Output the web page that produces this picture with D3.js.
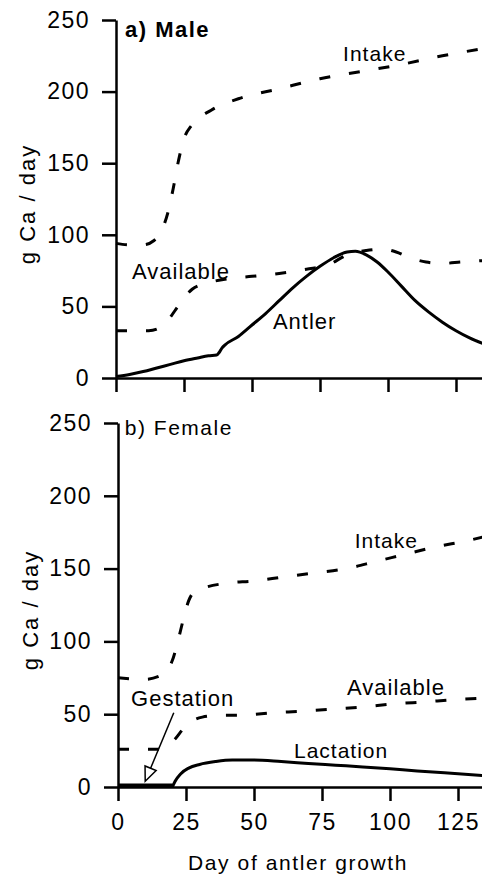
<!DOCTYPE html>
<html>
<head>
<meta charset="utf-8">
<script src="https://cdn.jsdelivr.net/npm/d3@7"></script>
<style>
  body { margin: 0; background: #fff; }
  svg { display: block; font-family: Arial, "Liberation Sans", Helvetica, sans-serif; }
  .axis path, .axis line { stroke: #000; stroke-width: 2.5; }
  .axis text { font-size: 23px; fill: #000; letter-spacing: 1.5px; }
  .lab { font-size: 22px; fill: #000; letter-spacing: 1px; }
</style>
</head>
<body>
<div id="chart"></div>
<script>
'use strict';

// day of antler growth vs g Ca / day
var xTicks = [0, 25, 50, 75, 100, 125];
var yTicks = [0, 50, 100, 150, 200, 250];

var maleIntake = [[0,94],[5,93],[10,93],[14,96],[17,104],[19,115],[21,132],[23,152],[25,167],[28,177],[35,187],[45,195],[60,202],[75,209],[90,214],[105,219],[120,225],[135,230]];
var maleAvailable = [[0,33],[12,33],[16,35],[19,40],[22,48],[25,56],[28,62],[33,66],[40,69],[50,71],[60,73],[70,76],[78,79],[85,86],[92,89],[98,90],[103,88],[108,84],[114,81],[120,80],[127,81],[135,82]];
var maleAntler = [[0,1],[5,2.5],[10,4.5],[15,7],[20,9.5],[25,12],[30,14],[34,15.5],[37,16],[38,18],[39,21],[40,23],[45,29],[50,37],[55,45],[60,54],[65,63],[70,71],[75,78],[80,84],[85,88],[88,88.5],[92,86],[96,81],[100,74],[105,64],[110,54],[115,46],[120,39],[125,33],[130,28],[135,24]];

var femaleIntake = [[0,75],[10,74],[15,76],[18,80],[20,87],[22,100],[24,115],[26,128],[28,134],[32,137],[40,140],[50,141.5],[60,144],[72,147],[84,150],[95,155],[106,160],[117,165],[128,169],[135,172]];
var femaleAvailable = [[0,26],[15,26],[18,28],[21,33],[24,40],[27,45],[31,48],[36,49],[47,49.5],[57,51],[67,52],[79,53.5],[90,55],[101,57],[113,58.5],[124,60],[135,61]];
var lactation = [[20,0],[21,4],[23,9],[26,13],[30,15.5],[36,17.5],[42,18.5],[50,18.5],[60,17.5],[70,16.2],[80,15],[90,13.8],[100,12.5],[110,11],[120,9.8],[135,7.8]];
var gestation = [[0,1],[20,1]];

var width = 482, height = 875;

var svg = d3.select('#chart').append('svg')
	.attr('width', width)
	.attr('height', height);

function panel(opts){
	var x = d3.scaleLinear().domain([0, 135]).range([opts.left, opts.left + 135*2.72]);
	var y = d3.scaleLinear().domain([0, 250]).range([opts.bottom, opts.top]);

	var g = svg.append('g');

	g.append('g')
		.attr('class', 'axis')
		.attr('transform', 'translate(' + opts.left + ',0)')
		.call(d3.axisLeft(y).tickValues(yTicks).tickSize(14).tickSizeOuter(0).tickPadding(12));

	var xAxis = g.append('g')
		.attr('class', 'axis')
		.attr('transform', 'translate(0,' + opts.bottom + ')')
		.call(d3.axisBottom(x).tickValues(xTicks).tickSize(14).tickSizeOuter(0).tickPadding(12)
			.tickFormat(opts.xLabels ? d3.format('d') : ''));
	xAxis.selectAll('text').attr('dy', '0.75em');

	g.append('text')
		.attr('class', 'lab')
		.attr('transform', 'translate(' + opts.yLabelX + ',' + opts.yLabelY + ') rotate(-90)')
		.attr('text-anchor', 'middle')
		.attr('dy', '0.35em')
		.style('letter-spacing', '2px')
		.text('g Ca / day');

	var line = d3.line()
		.x(function(d){ return x(d[0]); })
		.y(function(d){ return y(d[1]); })
		.curve(d3.curveMonotoneX);

	opts.series.forEach(function(s){
		g.append('path')
			.datum(s.data)
			.attr('d', line)
			.attr('fill', 'none')
			.attr('stroke', '#000')
			.attr('stroke-width', s.w || 3)
			.attr('stroke-dasharray', s.dashed ? '11,19' : null);
	});

	opts.labels.forEach(function(l){
		g.append('text')
			.attr('class', 'lab')
			.attr('x', x(l.at[0]))
			.attr('y', y(l.at[1]))
			.style('font-weight', l.bold ? 'bold' : null)
			.style('font-size', l.size ? l.size + 'px' : null)
			.style('letter-spacing', l.ls != null ? l.ls + 'px' : null)
			.text(l.text);
	});

	return {x: x, y: y, g: g};
}

var malePanel = panel({
	left: 116, top: 20, bottom: 378, xLabels: false,
	yLabelX: 27, yLabelY: 204,
	series: [
		{data: maleIntake, dashed: true},
		{data: maleAvailable, dashed: true},
		{data: maleAntler}
	],
	labels: [
		{text: 'a) Male', at: [3.3, 238], bold: true, size: 22, ls: 1.5},
		{text: 'Intake', at: [83.5, 221.4], size: 21},
		{text: 'Available', at: [5.9, 69]},
		{text: 'Antler', at: [57.7, 34]}
	]
});

var femalePanel = panel({
	left: 118, top: 423, bottom: 787, xLabels: true,
	yLabelX: 30, yLabelY: 610,
	series: [
		{data: femaleIntake, dashed: true},
		{data: femaleAvailable, dashed: true},
		{data: lactation},
		{data: gestation, w: 4}
	],
	labels: [
		{text: 'b) Female', at: [2.5, 242], size: 21, ls: 1.5},
		{text: 'Intake', at: [87, 164], size: 21},
		{text: 'Available', at: [84.2, 63]},
		{text: 'Lactation', at: [64.7, 20], size: 21},
		{text: 'Gestation', at: [4.8, 55.6]}
	]
});

// arrow from the Gestation label down to the line
var fx = femalePanel.x, fy = femalePanel.y;
var a0 = [fx(20.5), fy(51)], a1 = [fx(10), fy(4)];
var ang = Math.atan2(a1[1] - a0[1], a1[0] - a0[0]);
var hl = 14, hw = 6;
var base = [a1[0] - hl*Math.cos(ang), a1[1] - hl*Math.sin(ang)];
femalePanel.g.append('line')
	.attr('x1', a0[0]).attr('y1', a0[1])
	.attr('x2', base[0]).attr('y2', base[1])
	.attr('stroke', '#000').attr('stroke-width', 1.5);
femalePanel.g.append('path')
	.attr('d', d3.line()([
		a1,
		[base[0] + hw*Math.sin(ang), base[1] - hw*Math.cos(ang)],
		[base[0] - hw*Math.sin(ang), base[1] + hw*Math.cos(ang)]
	]) + 'Z')
	.attr('fill', '#fff').attr('stroke', '#000').attr('stroke-width', 1.5);

svg.append('text')
	.attr('class', 'lab')
	.attr('x', 298)
	.attr('y', 870)
	.attr('text-anchor', 'middle')
	.style('font-size', '21px')
	.style('letter-spacing', '1.6px')
	.text('Day of antler growth');
</script>
</body>
</html>
